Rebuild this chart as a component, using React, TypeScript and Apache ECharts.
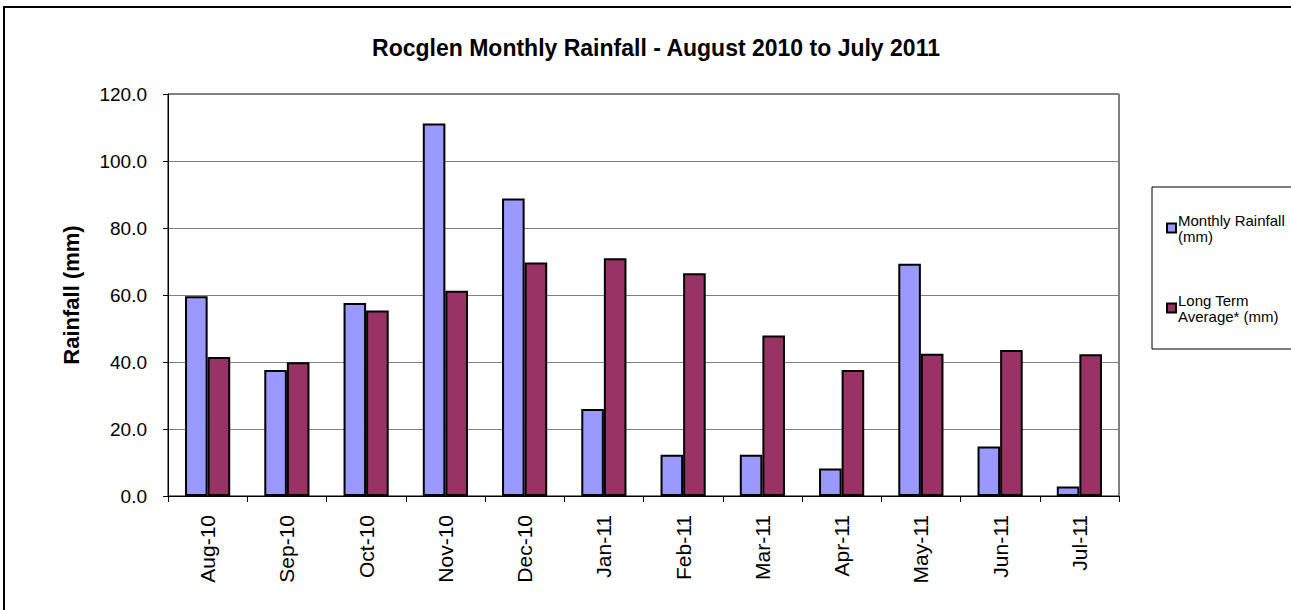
import React, { useEffect, useRef } from "react";
import * as echarts from "echarts";

const months = ["Aug-10", "Sep-10", "Oct-10", "Nov-10", "Dec-10", "Jan-11", "Feb-11", "Mar-11", "Apr-11", "May-11", "Jun-11", "Jul-11"];
const monthlyRainfall = [59.6, 37.6, 57.6, 111.2, 88.8, 26.0, 12.3, 12.3, 8.2, 69.3, 14.8, 2.8];
const longTermAverage = [41.5, 39.9, 55.4, 61.3, 69.7, 71.0, 66.5, 47.9, 37.6, 42.5, 43.6, 42.3];
const seriesNames = ["Monthly Rainfall\n(mm)", "Long Term\nAverage* (mm)"];
const titleText = "Rocglen Monthly Rainfall - August 2010 to July 2011";
const yAxisName = "Rainfall (mm)";

const FONT = "'Liberation Sans', Arial, sans-serif";

export default function App() {
  const ref = useRef<HTMLDivElement>(null);
  useEffect(() => {
    if (!ref.current) return;
    const chart = echarts.init(ref.current, null, { renderer: "svg" });
    chart.setOption({
      animation: false,
      backgroundColor: "#ffffff",
      textStyle: { fontFamily: FONT },
      graphic: [
        {
          type: "rect",
          shape: { x: 4, y: 7, width: 1300, height: 620 },
          style: { fill: "none", stroke: "#000", lineWidth: 2 },
          silent: true,
        },
        {
          type: "rect",
          shape: { x: 1152, y: 187, width: 150, height: 162 },
          style: { fill: "none", stroke: "#000", lineWidth: 1 },
          silent: true,
        },
        {
          type: "text",
          x: 656,
          y: 48,
          style: {
            text: titleText,
            fontFamily: FONT,
            fontSize: 23,
            fontWeight: "bold",
            fill: "#000",
            textAlign: "center",
            textVerticalAlign: "middle",
          },
        },
      ],
      legend: {
        orient: "vertical",
        left: 1161,
        top: 207,
        itemWidth: 9,
        itemHeight: 9,
        itemGap: 48,
        icon: "rect",
        textStyle: { fontFamily: FONT, fontSize: 15, color: "#000", lineHeight: 16, padding: [0, 0, 0, -3] },
        data: seriesNames,
      },
      grid: {
        left: 168,
        top: 94,
        right: 172,
        bottom: 114,
        show: true,
        borderColor: "#000",
        borderWidth: 1,
        containLabel: false,
      },
      xAxis: {
        type: "category",
        data: months,
        boundaryGap: true,
        axisLine: { lineStyle: { color: "#000", width: 1 } },
        axisTick: { show: true, length: 6, lineStyle: { color: "#000" } },
        axisLabel: { rotate: 90, margin: 19, fontSize: 21, color: "#000", fontFamily: FONT },
      },
      yAxis: {
        type: "value",
        min: 0,
        max: 120,
        interval: 20,
        name: yAxisName,
        nameLocation: "middle",
        nameGap: 86,
        nameRotate: 90,
        nameTextStyle: { fontSize: 22, fontWeight: "bold", color: "#000", fontFamily: FONT },
        axisLine: { show: true, lineStyle: { color: "#000", width: 1 } },
        axisTick: { show: true, length: 5, lineStyle: { color: "#000" } },
        axisLabel: {
          margin: 21,
          fontSize: 19,
          color: "#000",
          fontFamily: FONT,
          formatter: (v: number) => v.toFixed(1),
        },
        splitLine: { show: true, lineStyle: { color: "#808080", width: 1 } },
      },
      series: [
        {
          name: seriesNames[0],
          type: "bar",
          data: monthlyRainfall,
          barGap: "0%",
          barCategoryGap: "43%",
          itemStyle: { color: "#9999FF", borderColor: "#000", borderWidth: 2 },
        },
        {
          name: seriesNames[1],
          type: "bar",
          data: longTermAverage,
          barGap: "0%",
          barCategoryGap: "43%",
          itemStyle: { color: "#993366", borderColor: "#000", borderWidth: 2 },
        },
      ],
    });
    return () => chart.dispose();
  }, []);
  return (
    <div
      ref={ref}
      style={{ position: "absolute", left: 0, top: 0, width: 1291, height: 610, background: "#fff" }}
    />
  );
}
